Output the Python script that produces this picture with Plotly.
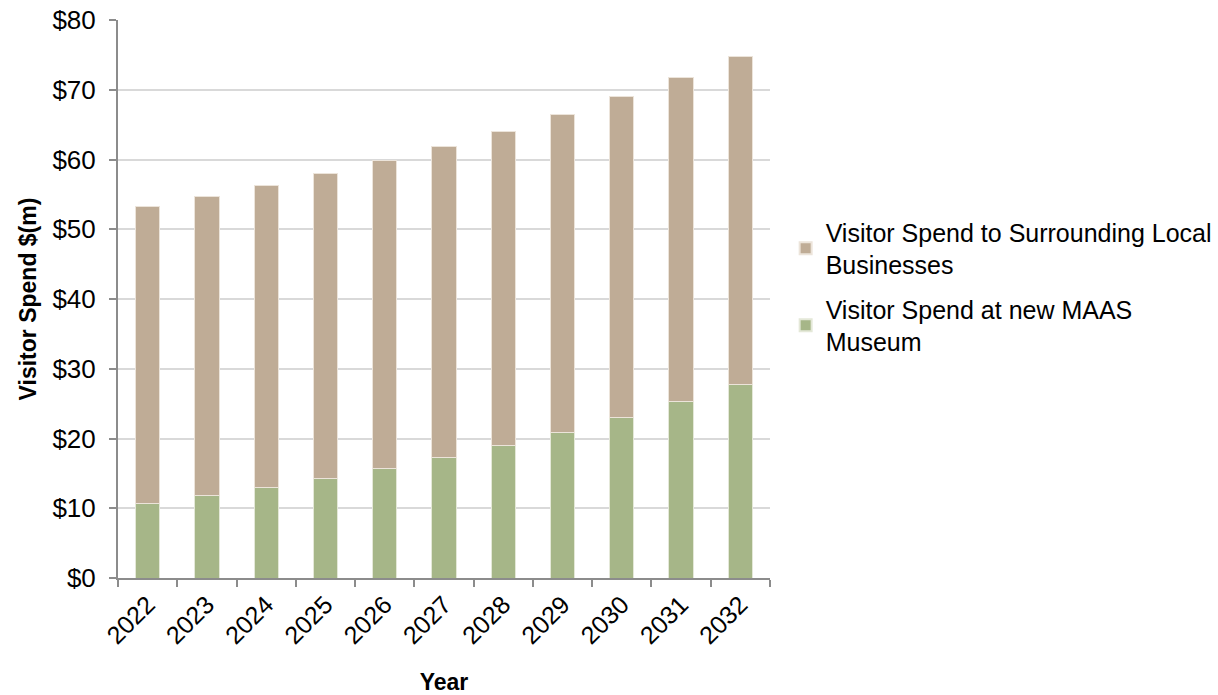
import plotly.graph_objects as go

years = ["2022", "2023", "2024", "2025", "2026", "2027", "2028", "2029", "2030", "2031", "2032"]
museum = [10.7, 11.8, 13.0, 14.25, 15.7, 17.3, 19.0, 20.9, 23.0, 25.3, 27.8]
local = [42.5, 42.9, 43.3, 43.75, 44.15, 44.6, 45.0, 45.5, 46.0, 46.4, 46.9]
y_ticks = [0, 10, 20, 30, 40, 50, 60, 70, 80]
y_labels = ["$" + str(v) for v in y_ticks]

title_font = dict(family="Liberation Sans, Arial, sans-serif", size=23, weight="bold", color="#000000")

fig = go.Figure()
fig.add_trace(go.Bar(x=years, y=museum, name="Visitor Spend at new MAAS<br>Museum", legendgroup="m",
                     legendrank=2,
                     marker=dict(color="#A6B688", line=dict(color="#E4E8D8", width=1))))
fig.add_trace(go.Bar(x=years, y=local, name="Visitor Spend to Surrounding Local<br>Businesses", legendgroup="l",
                     legendrank=1,
                     marker=dict(color="#BFAC96", line=dict(color="#ECE4DA", width=1))))

fig.update_layout(
    barmode="stack",
    bargap=0.59,
    width=1218, height=695,
    margin=dict(l=118, r=448, t=20, b=117, autoexpand=False),
    plot_bgcolor="white", paper_bgcolor="white",
    font=dict(family="Liberation Sans, Arial, sans-serif", size=25, color="#000000"),
    legend=dict(traceorder="grouped", x=1.024, y=0.522, xanchor="left", yanchor="middle",
                font=dict(size=25), itemsizing="constant", tracegroupgap=9,
                bgcolor="rgba(0,0,0,0)"),
    xaxis=dict(type="category", tickangle=-45, showline=True, linecolor="#8C8C8C", linewidth=2,
               ticks="outside", tickson="boundaries", ticklen=7, tickcolor="#8C8C8C", tickwidth=2,
               title=dict(text="Year", font=title_font, standoff=28),
               tickfont=dict(size=25), automargin=False),
    yaxis=dict(range=[0, 80], tickvals=y_ticks, ticktext=y_labels, showgrid=True,
               gridcolor="#D9D9D9", gridwidth=2, showline=True, linecolor="#8C8C8C", linewidth=2,
               ticks="outside", ticklen=7, tickcolor="#8C8C8C", tickwidth=2, zeroline=False,
               ticklabelstandoff=8,
               title=dict(text="Visitor Spend $(m)", font=title_font, standoff=9),
               tickfont=dict(size=26), automargin=False),
)

fig.write_html("out.html")
